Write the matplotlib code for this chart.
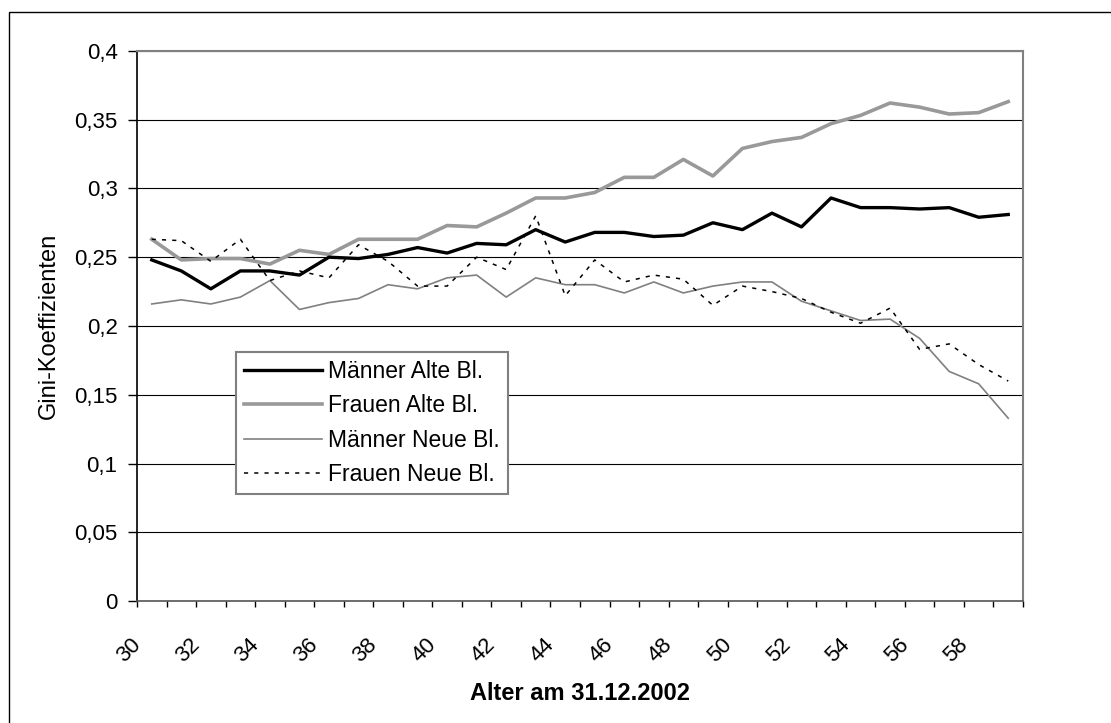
import matplotlib
matplotlib.use("Agg")
import matplotlib.pyplot as plt
from matplotlib.transforms import ScaledTranslation
from matplotlib.patches import Rectangle

ages = list(range(30, 60))
maenner_alte = [0.248, 0.240, 0.227, 0.240, 0.240, 0.237, 0.250, 0.249, 0.252, 0.257,
                0.253, 0.260, 0.259, 0.270, 0.261, 0.268, 0.268, 0.265, 0.266, 0.275,
                0.270, 0.282, 0.272, 0.293, 0.286, 0.286, 0.285, 0.286, 0.279, 0.281]
frauen_alte = [0.263, 0.248, 0.249, 0.249, 0.245, 0.255, 0.252, 0.263, 0.263, 0.263,
               0.273, 0.272, 0.282, 0.293, 0.293, 0.297, 0.308, 0.308, 0.321, 0.309,
               0.329, 0.334, 0.337, 0.347, 0.353, 0.362, 0.359, 0.354, 0.355, 0.363]
maenner_neue = [0.216, 0.219, 0.216, 0.221, 0.233, 0.212, 0.217, 0.220, 0.230, 0.227,
                0.235, 0.237, 0.221, 0.235, 0.230, 0.230, 0.224, 0.232, 0.224, 0.229,
                0.232, 0.232, 0.218, 0.211, 0.204, 0.205, 0.191, 0.167, 0.158, 0.133]
frauen_neue = [0.263, 0.262, 0.247, 0.263, 0.233, 0.240, 0.235, 0.259, 0.247, 0.229,
               0.229, 0.250, 0.241, 0.280, 0.222, 0.248, 0.232, 0.237, 0.234, 0.215,
               0.229, 0.225, 0.220, 0.210, 0.202, 0.213, 0.183, 0.187, 0.172, 0.160]
series_names = ["Männer Alte Bl.", "Frauen Alte Bl.", "Männer Neue Bl.", "Frauen Neue Bl."]
ytick_values = [0, 0.05, 0.1, 0.15, 0.2, 0.25, 0.3, 0.35, 0.4]
ytick_labels = ["0", "0,05", "0,1", "0,15", "0,2", "0,25", "0,3", "0,35", "0,4"]
xtick_labels = [str(a) for a in ages[::2]]
x_title = "Alter am 31.12.2002"
y_title = "Gini-Koeffizienten"

plt.rcParams['font.family'] = ['Liberation Sans', 'DejaVu Sans']

W, H = 1111, 723
fig = plt.figure(figsize=(W / 100, H / 100), dpi=100)
L, R, T, B = 137, 1023, 50.7, 601.3
ax = fig.add_axes([L / W, 1 - B / H, (R - L) / W, (B - T) / H])

idx = list(range(len(ages)))
ax.plot(idx, maenner_alte, color='black', lw=2.4, label=series_names[0], zorder=4)
ax.plot(idx, frauen_alte, color='#999999', lw=2.6, label=series_names[1], zorder=3)
ax.plot(idx, maenner_neue, color='#808080', lw=1.2, label=series_names[2], zorder=3)
ax.plot(idx, frauen_neue, color='black', lw=1.1, ls=(0, (2.7, 4.0)),
        label=series_names[3], zorder=5)

ax.set_xlim(-0.5, len(ages) - 0.5)
ax.set_ylim(0, 0.4)

ax.set_yticks(ytick_values)
ax.set_yticklabels(ytick_labels, fontsize=16)
ax.tick_params(axis='y', direction='out', length=6.5, width=1, pad=7.5, color='black')
ax.yaxis.grid(True, color='black', lw=0.8)
ax.set_axisbelow(True)

ax.set_xticks(idx[::2])
ax.set_xticklabels(xtick_labels, fontsize=16, rotation=45, ha='right', va='center',
                   rotation_mode='anchor')
ax.set_xticks([i - 0.5 for i in range(len(ages) + 1)], minor=True)
ax.tick_params(axis='x', which='major', length=0, pad=29.3)
ax.tick_params(axis='x', which='minor', direction='out', length=4.5, width=1, color='black')
off = ScaledTranslation(-14 / 100, 0, fig.dpi_scale_trans)
for lab in ax.get_xticklabels():
    lab.set_transform(lab.get_transform() + off)

for s in ['top', 'right']:
    ax.spines[s].set_color('#808080')
    ax.spines[s].set_linewidth(1.5)
ax.spines['left'].set_color('black')
ax.spines['left'].set_linewidth(1.2)
ax.spines['bottom'].set_color('#555555')
ax.spines['bottom'].set_linewidth(1.2)

ax.set_xlabel(x_title, fontsize=17, fontweight='bold', va='center')
ax.xaxis.set_label_coords(0.5, -(693 - B) / (B - T))
ax.set_ylabel(y_title, fontsize=17, va='center')
ax.yaxis.set_label_coords((49 - L) / (R - L), 0.5)

leg = ax.legend(loc='upper left', bbox_to_anchor=(235.7 / W, 1 - 352 / H),
                bbox_transform=fig.transFigure, fontsize=16.5, frameon=True,
                fancybox=False, shadow=False, framealpha=1, edgecolor='#808080',
                borderpad=0.35, labelspacing=0.5, handlelength=3.4,
                handletextpad=0.27, borderaxespad=0)
leg.get_frame().set_linewidth(1.5)

fig.patches.append(Rectangle((9 / W, -0.05), 1.2, 1 - 12 / H + 0.05,
                             transform=fig.transFigure, fill=False,
                             edgecolor='black', lw=1.0))

fig.savefig('out.png', dpi=100)
